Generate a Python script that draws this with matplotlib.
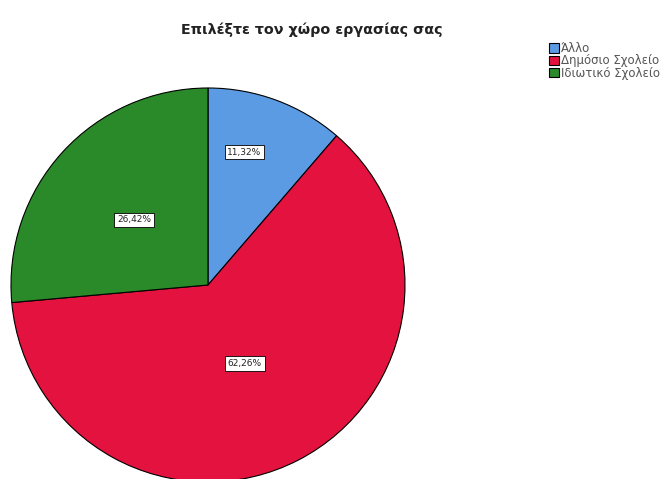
import matplotlib
matplotlib.use("Agg")
import matplotlib.pyplot as plt
import numpy as np

categories = ["Άλλο", "Δημόσιο Σχολείο", "Ιδιωτικό Σχολείο"]
values = [11.32, 62.26, 26.42]
pct_labels = ["11,32%", "62,26%", "26,42%"]
title = "Επιλέξτε τον χώρο εργασίας σας"

colors = ["#5b9be4", "#e3123e", "#2a8a2a"]
label_dist = [0.70, 0.44, 0.50]
label_shift = [5, -2, 1]

fig = plt.figure(figsize=(6.67, 4.79), dpi=100)
ax = fig.add_axes([11 / 667, (479 - 482) / 479, 394 / 667, 394 / 479])
wedges, _ = ax.pie(values, colors=colors, startangle=90, counterclock=False,
                   wedgeprops=dict(edgecolor="black", linewidth=0.8))
ax.set_xlim(-1, 1)
ax.set_ylim(-1, 1)
ax.set_aspect("equal")
ax.axis("off")

for w, lab, d, s in zip(wedges, pct_labels, label_dist, label_shift):
    ang = np.deg2rad((w.theta1 + w.theta2) / 2 + s)
    ax.text(d * np.cos(ang), d * np.sin(ang), lab, ha="center", va="center",
            fontsize=6.5, color="#222222",
            bbox=dict(boxstyle="square,pad=0.3", facecolor="white",
                      edgecolor="black", linewidth=0.6))

fig.text(312 / 667, 1 - 30 / 479, title, ha="center", va="center",
         fontsize=10.3, fontweight="bold", color="#222222")

leg = fig.legend(wedges, categories, loc="upper left",
                 bbox_to_anchor=(543 / 667, 1 - 36 / 479), frameon=False,
                 fontsize=8.5, handlelength=0.85, handleheight=0.85,
                 handletextpad=0.15, labelspacing=-0.05, borderpad=0)
for t in leg.get_texts():
    t.set_color("#555555")

fig.savefig("out.png", dpi=100)
